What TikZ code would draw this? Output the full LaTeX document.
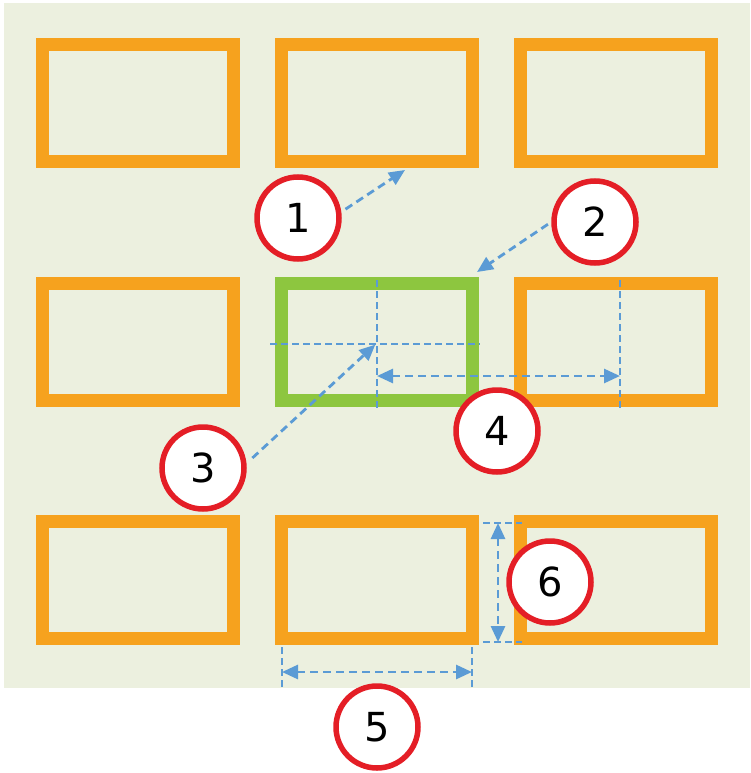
\documentclass[tikz,border=0pt]{standalone}
\usepackage{fontspec}
\setmainfont{DejaVu Sans}
\usetikzlibrary{arrows.meta}
\definecolor{bgc}{RGB}{236,240,223}
\definecolor{orng}{RGB}{246,162,30}
\definecolor{grn}{RGB}{141,198,63}
\definecolor{redc}{RGB}{228,30,38}
\definecolor{bluec}{RGB}{91,155,213}
\begin{document}
\begin{tikzpicture}[x=1pt,y=-1pt,
  box/.style={draw=orng,line width=13pt,minimum width=191pt,minimum height=117pt,inner sep=0pt,outer sep=0pt},
  num/.style={circle,draw=redc,line width=5.5pt,fill=white,minimum size=82pt,inner sep=0pt,font=\fontsize{40}{40}\selectfont},
  dim/.style={draw=bluec,line width=2.8pt,dash pattern=on 8pt off 5pt},
  guide/.style={draw=bluec,line width=1.6pt,dash pattern=on 7pt off 4pt},
  tip/.style={-{Triangle[length=16pt,width=14pt]}},
  dbl/.style={{Triangle[length=16pt,width=14pt]}-{Triangle[length=16pt,width=14pt]}}
]
\useasboundingbox (0,0) rectangle (750,773);
\fill[bgc] (4,3) rectangle (750,688);

% boxes
\node[box] (b11) at (138,103) {};
\node[box] (b12) at (376.5,103) {};
\node[box] (b13) at (616,103) {};
\node[box] (b21) at (138,342) {};
\node[box,draw=grn] (g) at (376.5,342) {};
\node[box] (b23) at (616,342) {};
\node[box] (b31) at (138,580) {};
\node[box] (b32) at (376.5,580) {};
\node[box] (b33) at (616,580) {};

% coordinates
\coordinate (gv1) at (377,280);
\coordinate (gv2) at (377,410);
\coordinate (gh1) at (270,344);
\coordinate (gh2) at (480,344);
\coordinate (rv1) at (620,280);
\coordinate (rv2) at (620,410);
\coordinate (a4l) at (377,376);
\coordinate (a4r) at (620,376);
\coordinate (e5l1) at (282,647);
\coordinate (e5l2) at (282,688);
\coordinate (e5r1) at (472,647);
\coordinate (e5r2) at (472,688);
\coordinate (a5l) at (282,672);
\coordinate (a5r) at (472,672);
\coordinate (e6t1) at (483,523);
\coordinate (e6t2) at (522,523);
\coordinate (e6b1) at (483,642);
\coordinate (e6b2) at (522,642);
\coordinate (a6t) at (498,523);
\coordinate (a6b) at (498,642);
\coordinate (t1) at (405,170);
\coordinate (t2) at (477,272);
\coordinate (t3) at (376,344);

% guides
\draw[guide] (gv1) -- (gv2);
\draw[guide] (gh1) -- (gh2);
\draw[guide] (rv1) -- (rv2);
\draw[guide] (e5l1) -- (e5l2);
\draw[guide] (e5r1) -- (e5r2);
\draw[guide] (e6t1) -- (e6t2);
\draw[guide] (e6b1) -- (e6b2);

% circles
\node[num] (c1) at (298,218) {1};
\node[num] (c2) at (595,222) {2};
\node[num] (c3) at (203,468) {3};
\node[num] (c4) at (497,431) {4};
\node[num] (c5) at (377,727) {5};
\node[num] (c6) at (550,582) {6};

% arrows
\draw[dim,dbl] (a4l) -- (a4r);
\draw[dim,dbl] (a5l) -- (a5r);
\draw[dim,dbl] (a6t) -- (a6b);
\draw[dim,tip,shorten <=5pt] (c1.8) -- (t1);
\draw[dim,tip,shorten <=4pt] (c2.180) -- (t2);
\draw[dim,tip,shorten <=8pt,shorten >=1pt] (c3.6) -- (t3);
\end{tikzpicture}
\end{document}
